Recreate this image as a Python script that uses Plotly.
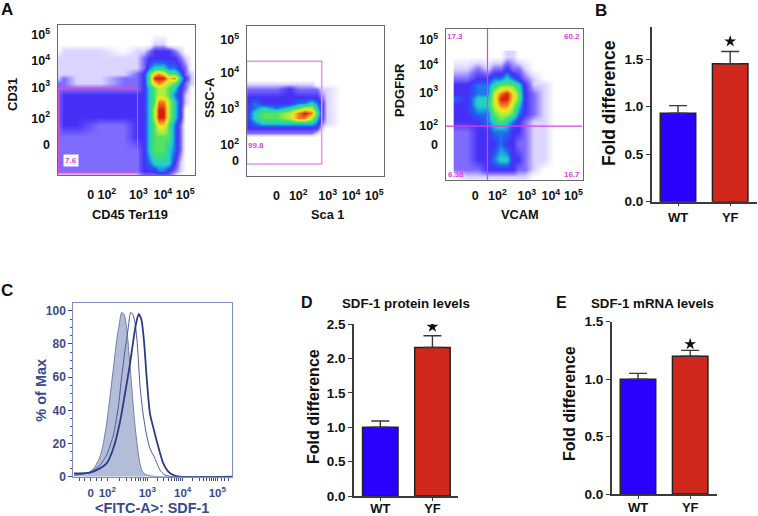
import plotly.graph_objects as go

W, H = 758, 516

# ---------- flow density panels: coarse density index 0-10 ----------
a1_x = [172, 190, 230, 300, 370, 410, 430, 448, 462, 475, 490, 505, 522, 540, 556, 575]
a1_y = [100, 132, 152, 175, 205, 222, 235, 248, 265, 285, 305, 330, 350, 375, 410, 450, 490, 512, 525]
a1_z = [
    [0, 0, 0, 0, 0, 0, 0, 0, 0, 0, 0, 0, 0, 0, 0, 0],
    [0, 0, 0, 0, 0, 0, 0, 0, 1, 1, 1, 0, 0, 0, 0, 0],
    [0, 1, 1, 1, 0, 1, 1, 2, 3, 3, 3, 3, 2, 1, 0, 0],
    [1, 1, 1, 1, 1, 1, 2, 3, 3, 3, 3, 3, 3, 2, 1, 0],
    [1, 1, 1, 1, 1, 1, 2, 4, 5, 5, 5, 4, 4, 3, 2, 0],
    [1, 1, 1, 1, 1, 2, 3, 6, 8, 9, 8, 6, 6, 4, 2, 1],
    [1, 2, 1, 1, 2, 2, 3, 6, 10, 10, 10, 8, 9, 5, 3, 1],
    [2, 2, 1, 1, 2, 2, 3, 6, 8, 9, 8, 7, 6, 4, 2, 1],
    [2, 2, 2, 2, 2, 2, 3, 5, 6, 7, 7, 6, 5, 3, 2, 0],
    [2, 3, 3, 3, 3, 3, 3, 5, 6, 7, 7, 6, 4, 3, 1, 0],
    [2, 3, 3, 3, 3, 3, 3, 5, 6, 9, 9, 7, 5, 3, 1, 0],
    [2, 3, 3, 3, 3, 3, 3, 5, 7, 10, 10, 7, 5, 3, 0, 0],
    [2, 3, 3, 3, 3, 3, 3, 5, 7, 10, 10, 7, 5, 3, 0, 0],
    [2, 3, 3, 2, 2, 3, 3, 5, 6, 8, 8, 6, 4, 2, 0, 0],
    [2, 2, 2, 2, 2, 3, 3, 5, 6, 6, 6, 6, 4, 2, 0, 0],
    [2, 2, 2, 2, 2, 2, 3, 5, 6, 6, 6, 5, 4, 2, 0, 0],
    [2, 2, 2, 2, 2, 2, 3, 4, 5, 5, 5, 5, 3, 1, 0, 0],
    [2, 2, 2, 2, 2, 2, 3, 3, 3, 4, 4, 3, 2, 1, 0, 0],
    [1, 1, 1, 1, 1, 1, 2, 2, 2, 2, 2, 2, 1, 0, 0, 0],
]
a2_x = [140, 165, 190, 230, 270, 295, 315, 335, 350, 365, 380, 420]
a2_y = [240, 252, 268, 290, 310, 325, 340, 355, 370, 385, 400, 412]
a2_z = [
    [0, 0, 0, 0, 0, 0, 0, 0, 0, 0, 0, 0],
    [1, 1, 1, 1, 1, 1, 1, 1, 0, 0, 0, 0],
    [2, 2, 2, 2, 3, 2, 2, 2, 2, 1, 1, 0],
    [3, 3, 3, 3, 3, 3, 3, 3, 3, 2, 1, 0],
    [3, 4, 3, 3, 3, 4, 4, 5, 4, 3, 1, 0],
    [3, 4, 5, 4, 5, 6, 7, 7, 5, 3, 1, 0],
    [3, 5, 6, 6, 7, 9, 10, 9, 6, 3, 1, 0],
    [3, 5, 6, 6, 7, 9, 9, 7, 5, 3, 1, 0],
    [3, 4, 5, 5, 5, 5, 5, 5, 4, 2, 1, 0],
    [3, 3, 3, 3, 3, 3, 3, 3, 3, 1, 0, 0],
    [2, 2, 2, 2, 2, 2, 2, 2, 1, 0, 0, 0],
    [0, 0, 0, 0, 0, 0, 0, 0, 0, 0, 0, 0],
]
a3_x = [186, 189, 230, 262, 292, 310, 330, 350, 368, 385, 402, 430, 460, 490]
a3_y = [170, 205, 235, 255, 280, 297, 315, 340, 365, 395, 430, 480, 510, 530]
a3_z = [
    [0, 0, 0, 0, 0, 0, 0, 1, 1, 0, 0, 0, 0, 0],
    [0, 1, 1, 2, 1, 2, 2, 3, 2, 2, 1, 0, 0, 0],
    [0, 2, 2, 3, 3, 4, 4, 5, 4, 3, 2, 1, 0, 0],
    [0, 3, 3, 4, 4, 5, 6, 6, 6, 5, 3, 1, 1, 0],
    [0, 3, 3, 4, 4, 7, 9, 10, 8, 6, 3, 2, 1, 0],
    [0, 4, 3, 5, 5, 7, 10, 10, 8, 6, 3, 2, 1, 0],
    [0, 3, 3, 5, 5, 7, 9, 9, 7, 5, 3, 2, 1, 0],
    [0, 3, 3, 4, 4, 6, 7, 7, 6, 4, 3, 2, 1, 0],
    [0, 3, 3, 3, 4, 5, 6, 5, 4, 3, 2, 1, 1, 0],
    [0, 2, 2, 3, 3, 4, 4, 4, 3, 3, 2, 1, 1, 0],
    [0, 2, 2, 3, 3, 3, 4, 3, 3, 2, 2, 1, 1, 0],
    [0, 2, 2, 3, 3, 4, 5, 5, 3, 3, 2, 1, 1, 0],
    [0, 2, 2, 2, 3, 3, 3, 3, 3, 2, 2, 1, 0, 0],
    [0, 0, 1, 1, 1, 1, 1, 1, 1, 1, 1, 0, 0, 0],
]
density_colors = [
    [0.0, "#ffffff"], [0.1, "#dcd4ff"], [0.2, "#7f6cff"], [0.3, "#4630f6"],
    [0.38, "#2060f2"], [0.48, "#20cdd0"], [0.58, "#40df6c"], [0.68, "#a8ee40"],
    [0.78, "#f4e820"], [0.88, "#f58a20"], [1.0, "#d81c10"],
]

# gates
a1_gate_x = [175, 412, 412, 175, 175]
a1_gate_y = [265, 265, 518, 518, 265]
a2_gate_x = [140, 365, 365, 140, 140]
a2_gate_y = [184, 184, 492, 492, 184]
a3_gate_vx = [292, 292]
a3_gate_vy = [88, 540]
a3_gate_hx = [166, 577]
a3_gate_hy = [379, 379]

# tick labels
log_labels = ["<b>0</b>", "<b>10<sup>2</sup></b>", "<b>10<sup>3</sup></b>",
              "<b>10<sup>4</sup></b>", "<b>10<sup>5</sup></b>"]
a1_xticks = [272, 320, 415, 488, 555]
a1_yticks = [435, 355, 262, 183, 105]
a2_xticks = [230, 295, 383, 453, 522]
a2_yticks = [483, 435, 325, 218, 120]
a3_xticks = [255, 322, 410, 482, 550]
a3_yticks = [435, 378, 277, 195, 120]

# ---------- histogram panel C ----------
c_fill_x = [222, 250, 270, 285, 300, 310, 320, 330, 340, 350, 358, 365, 372, 380, 388, 395, 403, 410, 418, 425, 435, 450, 480, 697]
c_fill_y = [1, 1.5, 3, 6, 12, 20, 32, 48, 65, 82, 92, 99, 98, 90, 72, 55, 35, 22, 10, 4, 1.5, 0.5, 0, 0]
c_thin_x = [222, 270, 300, 320, 340, 355, 365, 375, 385, 392, 398, 405, 412, 420, 428, 438, 450, 465, 480, 495, 520, 697]
c_thin_y = [1, 2.5, 7, 13, 25, 42, 60, 76, 90, 99, 98, 93, 80, 55, 40, 27, 17, 11, 4, 1, 0, 0]
c_thick_x = [222, 270, 300, 320, 340, 360, 375, 390, 400, 408, 416, 424, 432, 440, 450, 462, 475, 490, 505, 520, 540, 697]
c_thick_y = [2, 2.5, 5, 8, 17, 33, 50, 68, 82, 92, 98, 95, 82, 60, 38, 28, 18, 8, 3, 1, 0, 0]
c_major = [272, 322, 442, 548, 652]
c_minor = [240, 255, 290, 305, 358, 379, 394, 406, 415, 423, 430, 436, 474, 492, 506, 516, 524, 531, 537, 543,
           579, 598, 611, 621, 629, 636, 642, 647, 665, 675, 685]
c_yticks = [0, 20, 40, 60, 80, 100]

# ---------- bar panels ----------
groups = ["WT", "YF"]
b_vals = [0.93, 1.45]
b_errs = [0.08, 0.13]
d_vals = [1.0, 2.16]
d_errs = [0.09, 0.17]
e_vals = [1.0, 1.2]
e_errs = [0.05, 0.05]
b_star = 1.686
d_star = 2.46
e_star = 1.305

BLUE, RED = "#2a00ff", "#d0281c"
DARK = "#3a3a3a"
MAG = "#e13fe6"
NAVY = "#3b4a8c"
FONT = "Liberation Sans"

fig = go.Figure()
layout = {}


def bold(items):
    return [f"<b>{t}</b>" for t in items]


def dom(x0, x1, y0, y1):
    return [x0 / W, x1 / W], [1 - y1 / H, 1 - y0 / H]


def flow_axes(n, box, xr, yr, xt, yt, xstand, ystand):
    dx, dy = dom(*box)
    s = "" if n == 1 else str(n)
    common = dict(showgrid=False, zeroline=False, showline=True, linecolor="#6a6a6a",
                  linewidth=1, mirror=True, ticks="", ticktext=log_labels, tickmode="array",
                  tickfont=dict(family=FONT, size=12.5, color="#111"))
    layout["xaxis" + s] = dict(domain=dx, range=xr, anchor="y" + s, tickvals=xt,
                               ticklabelstandoff=xstand, **common)
    layout["yaxis" + s] = dict(domain=dy, range=yr, anchor="x" + s, tickvals=yt,
                               ticklabelstandoff=ystand, **common)


def density(n, x, y, z):
    s = "" if n == 1 else str(n)
    fig.add_trace(go.Heatmap(x=x, y=y, z=z, zmin=0, zmax=10, colorscale=density_colors,
                             zsmooth="best", showscale=False, xaxis="x" + s, yaxis="y" + s,
                             hoverinfo="skip"))


def gate(n, x, y, color, width=1):
    s = "" if n == 1 else str(n)
    fig.add_trace(go.Scatter(x=x, y=y, mode="lines", line=dict(color=color, width=width),
                             xaxis="x" + s, yaxis="y" + s, showlegend=False, hoverinfo="skip"))


flow_axes(1, (57.5, 194.5, 25, 175), [172, 583], [525, 75], a1_xticks, a1_yticks, 8, 4)
flow_axes(2, (246.5, 383.5, 25.5, 176), [140, 550], [528, 77], a2_xticks, a2_yticks, 8, 4)
flow_axes(3, (445.5, 582.5, 29, 180), [166, 577], [540, 88], a3_xticks, a3_yticks, 4, 4)
density(1, a1_x, a1_y, a1_z)
density(2, a2_x, a2_y, a2_z)
density(3, a3_x, a3_y, a3_z)
gate(1, a1_gate_x, a1_gate_y, "#e04fd0")
gate(2, a2_gate_x, a2_gate_y, "#ef8cf2", 1.5)
gate(3, a3_gate_vx, a3_gate_vy, MAG, 1.2)
gate(3, a3_gate_hx, a3_gate_hy, MAG, 1.2)

# Panel C
dx, dy = dom(73.3, 232.3, 303.3, 476.7)
layout["xaxis4"] = dict(domain=dx, range=[220, 697], anchor="y4", showgrid=False, zeroline=False,
                        showline=True, mirror=True, linecolor="#7d8fc0", linewidth=1,
                        tickmode="array", tickvals=c_major + c_minor,
                        ticktext=log_labels + [""] * len(c_minor), ticks="outside",
                        ticklen=3, tickcolor=NAVY, tickfont=dict(family=FONT, size=11.5, color=NAVY),
                        ticklabelstandoff=2)
layout["yaxis4"] = dict(domain=dy, range=[0, 104.5], anchor="x4", showgrid=False, zeroline=False,
                        showline=True, mirror=True, linecolor="#7d8fc0", linewidth=1,
                        tickmode="array", tickvals=c_yticks, ticktext=bold(c_yticks), ticks="outside",
                        ticklen=4, tickcolor=NAVY, tickfont=dict(family=FONT, size=12, color=NAVY),
                        minor=dict(ticks="outside", ticklen=2, dtick=5, tickcolor=NAVY))
fig.add_trace(go.Scatter(x=c_fill_x, y=c_fill_y, mode="lines", fill="tozeroy", fillcolor="#b4bdd7",
                         line=dict(color="#6f7eaa", width=1, shape="spline", smoothing=0.6),
                         xaxis="x4", yaxis="y4", showlegend=False))
fig.add_trace(go.Scatter(x=c_thin_x, y=c_thin_y, mode="lines",
                         line=dict(color="#4a5a96", width=1, shape="spline", smoothing=0.6),
                         xaxis="x4", yaxis="y4", showlegend=False))
fig.add_trace(go.Scatter(x=c_thick_x, y=c_thick_y, mode="lines",
                         line=dict(color="#2c3c84", width=1.8, shape="spline", smoothing=0.6),
                         xaxis="x4", yaxis="y4", showlegend=False))


def bar_panel(n, box, yr, yticks, vals, errs, star, xr, xstand):
    dx, dy = dom(*box)
    s = str(n)
    layout["xaxis" + s] = dict(domain=dx, type="category", categoryorder="array", categoryarray=groups,
                               range=xr, anchor="y" + s, showgrid=False, zeroline=False, showline=True,
                               linecolor=DARK, linewidth=1.5, ticks="outside", ticklen=3,
                               tickcolor=DARK, tickmode="array", tickvals=groups, ticktext=bold(groups),
                               tickfont=dict(family=FONT, size=13, color="#111"),
                               ticklabelstandoff=xstand)
    layout["yaxis" + s] = dict(domain=dy, range=yr, anchor="x" + s, showgrid=False, zeroline=False,
                               showline=True, linecolor=DARK, linewidth=1.5, ticks="outside", ticklen=4,
                               tickcolor=DARK, tickmode="array", tickvals=yticks,
                               ticktext=bold(f"{v:.1f}" for v in yticks),
                               tickfont=dict(family=FONT, size=13.5, color="#111"))
    fig.add_trace(go.Bar(x=groups, y=vals, width=0.68, marker=dict(color=[BLUE, RED],
                                                                    line=dict(color="#222", width=1.5)),
                         error_y=dict(type="data", array=errs, arrayminus=[0, 0], symmetric=False,
                                      color=DARK, thickness=1.4, width=9),
                         xaxis="x" + s, yaxis="y" + s, showlegend=False))
    fig.add_trace(go.Scatter(x=[groups[1]], y=[star], mode="markers",
                             marker=dict(symbol="star", color="#111", size=9, line=dict(width=0)),
                             xaxis="x" + s, yaxis="y" + s, showlegend=False))


bar_panel(5, (651.7, 756.7, 26.7, 201.7), [0, 1.84], [0, 0.5, 1.0, 1.5], b_vals, b_errs, b_star, [-0.504, 1.508], 0)
bar_panel(6, (354, 458, 324, 496), [0, 2.5], [0, 0.5, 1.0, 1.5, 2.0, 2.5], d_vals, d_errs, d_star, [-0.504, 1.49], -3)
bar_panel(7, (611.7, 716.7, 321.7, 494), [0, 1.5], [0, 0.5, 1.0, 1.5], e_vals, e_errs, e_star, [-0.504, 1.508], -2)


def note(text, x, y, size=12, color="#111", rot=0, is_bold=True, bg=None, font=FONT):
    t = f"<b>{text}</b>" if is_bold else text
    kw = dict(bgcolor=bg) if bg else {}
    return dict(text=t, x=x / W, y=1 - y / H, xref="paper", yref="paper", showarrow=False,
                xanchor="center", yanchor="middle", textangle=rot,
                font=dict(family=font, size=size, color=color), **kw)


ann = [
    note("A", 7, 9, 17), note("B", 601, 10, 17), note("C", 7, 290, 17),
    note("D", 307, 302, 16), note("E", 561, 302, 16),
    note("CD31", 12, 95, 13, rot=-90), note("CD45 Ter119", 130, 214, 12.8),
    note("SSC-A", 209, 98, 13, rot=-90), note("Sca 1", 327, 214, 12.8),
    note("PDGFbR", 400, 90, 13, rot=-90), note("VCAM", 520, 214, 12.8),
    note("7.6", 70.5, 160, 8, MAG, bg="#ffffff"),
    note("99.8", 256, 145, 8, MAG),
    note("17.3", 455.5, 36, 8, MAG), note("60.2", 572, 36, 8, MAG),
    note("6.38", 456, 174.5, 8, MAG), note("16.7", 572, 174.5, 8, MAG),
    note("Fold difference", 609, 103, 17.5, "#111", rot=-90),
    note("Fold difference", 313, 407, 16, "#111", rot=-90),
    note("Fold difference", 569, 404, 16, "#111", rot=-90),
    note("SDF-1 protein levels", 406, 303, 13.3),
    note("SDF-1 mRNA levels", 652, 303, 13.3),
    note("% of Max", 40.7, 390, 14.5, NAVY, rot=-90),
    note("&lt;FITC-A&gt;: SDF-1", 152, 508, 14.4, NAVY),
]

fig.update_layout(width=W, height=H, margin=dict(l=0, r=0, t=0, b=0, autoexpand=False), autosize=False,
                  paper_bgcolor="white", plot_bgcolor="white", showlegend=False,
                  annotations=ann, **layout)
fig.write_html("out.html", post_script="document.body.style.margin='0';",
               config={"displayModeBar": False})
